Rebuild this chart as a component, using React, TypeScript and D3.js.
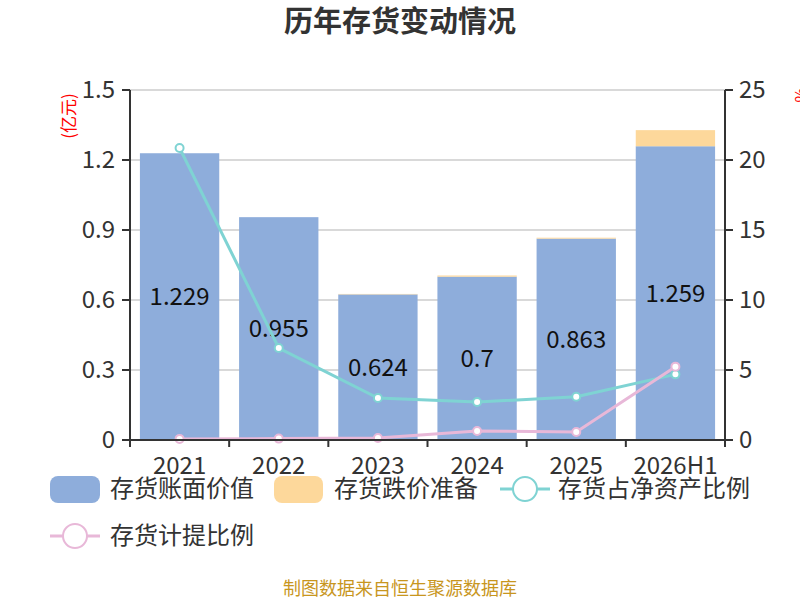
import * as d3 from "d3";

const categories = ["2021", "2022", "2023", "2024", "2025", "2026H1"];
const bookValue = [1.229, 0.955, 0.624, 0.7, 0.863, 1.259];
const impairment = [0, 0, 0.002, 0.005, 0.004, 0.069];
const shareOfNetAssets = [20.86, 6.57, 3.0, 2.71, 3.09, 4.69];
const provisionRatio = [0.08, 0.1, 0.14, 0.64, 0.57, 5.24];
const leftTicks = [0, 0.3, 0.6, 0.9, 1.2, 1.5];
const rightTicks = [0, 5, 10, 15, 20, 25];

const W = 800;
const H = 600;
const font = "'Noto Sans CJK SC', 'Noto Sans', sans-serif";
const blue = "#8eaddb";
const orange = "#fdd89b";
const teal = "#7fd3d3";
const pink = "#e8b8d8";

const App = () => {
  const margin = { top: 90, right: 75, bottom: 160, left: 130 };
  const x = d3
    .scaleBand()
    .domain(categories)
    .range([margin.left, W - margin.right])
    .paddingInner(0.2)
    .paddingOuter(0.1);
  const band = d3.scaleBand().domain(categories).range([margin.left, W - margin.right]);
  const yL = d3.scaleLinear().domain([0, 1.5]).range([H - margin.bottom, margin.top]);
  const yR = d3.scaleLinear().domain([0, 25]).range([H - margin.bottom, margin.top]);
  const cx = (c: string) => (band(c) ?? 0) + band.bandwidth() / 2;

  const line = (vals: number[]) =>
    d3
      .line<number>()
      .x((_, i) => cx(categories[i]))
      .y((v) => yR(v))(vals) ?? "";

  const x0 = margin.left;
  const x1 = W - margin.right;
  const y0 = H - margin.bottom;

  return (
    <svg
      width={W}
      height={H}
      style={{ position: "absolute", left: 0, top: 0 }}
      fontFamily={font}
    >
      <text x={W / 2} y={22} dy="0.35em" textAnchor="middle" fontSize={29} fontWeight="bold" fill="#333">
        历年存货变动情况
      </text>

      {/* grid */}
      {leftTicks.map((t) => (
        <line key={t} x1={x0} x2={x1} y1={yL(t)} y2={yL(t)} stroke="#ccc" strokeWidth={1.5} />
      ))}

      {/* bars */}
      {categories.map((c, i) => {
        const bx = x(c) ?? 0;
        const bw = x.bandwidth();
        const topBlue = yL(bookValue[i]);
        const topAll = yL(bookValue[i] + impairment[i]);
        return (
          <g key={c}>
            <rect x={bx} y={topBlue} width={bw} height={y0 - topBlue} fill={blue} />
            {impairment[i] > 0 && (
              <rect x={bx} y={topAll} width={bw} height={topBlue - topAll} fill={orange} />
            )}
            <text
              x={bx + bw / 2}
              y={(topBlue + y0) / 2}
              dy="0.35em"
              textAnchor="middle"
              fontSize={24}
              fill="#111"
            >
              {bookValue[i]}
            </text>
          </g>
        );
      })}

      {/* lines */}
      <path d={line(shareOfNetAssets)} fill="none" stroke={teal} strokeWidth={3} />
      <path d={line(provisionRatio)} fill="none" stroke={pink} strokeWidth={3} />
      {shareOfNetAssets.map((v, i) => (
        <circle key={"t" + i} cx={cx(categories[i])} cy={yR(v)} r={4} fill="#fff" stroke={teal} strokeWidth={2} />
      ))}
      {provisionRatio.map((v, i) => (
        <circle key={"p" + i} cx={cx(categories[i])} cy={yR(v)} r={4} fill="#fff" stroke={pink} strokeWidth={2} />
      ))}

      {/* left axis */}
      <line x1={x0} x2={x0} y1={margin.top} y2={y0} stroke="#333" strokeWidth={2} />
      {leftTicks.map((t) => (
        <g key={t} transform={`translate(${x0},${yL(t)})`}>
          <line x1={-8} x2={0} stroke="#333" strokeWidth={2} />
          <text x={-15} dy="0.35em" textAnchor="end" fontSize={24} fill="#333">
            {t === 0 ? "0" : d3.format(".1f")(t)}
          </text>
        </g>
      ))}
      <text
        transform={`translate(69,${margin.top + 26}) rotate(-90)`}
        textAnchor="middle"
        dy="0.35em"
        fontSize={17}
        fill="red"
      >
        (亿元)
      </text>

      {/* right axis */}
      <line x1={x1} x2={x1} y1={margin.top} y2={y0} stroke="#333" strokeWidth={2} />
      {rightTicks.map((t) => (
        <g key={t} transform={`translate(${x1},${yR(t)})`}>
          <line x1={0} x2={8} stroke="#333" strokeWidth={2} />
          <text x={14} dy="0.35em" textAnchor="start" fontSize={24} fill="#333">
            {t}
          </text>
        </g>
      ))}
      <text
        transform={`translate(801,${margin.top + 5}) rotate(-90)`}
        textAnchor="middle"
        dy="0.35em"
        fontSize={16}
        fill="red"
      >
        %
      </text>

      {/* bottom axis */}
      <line x1={x0} x2={x1} y1={y0} y2={y0} stroke="#333" strokeWidth={2} />
      {categories.map((c) => (
        <line key={c} x1={band(c) ?? 0} x2={band(c) ?? 0} y1={y0} y2={y0 + 7} stroke="#333" strokeWidth={2} />
      ))}
      <line x1={x1} x2={x1} y1={y0} y2={y0 + 7} stroke="#333" strokeWidth={2} />
      {categories.map((c) => (
        <text key={c} x={cx(c)} y={y0 + 26} dy="0.35em" textAnchor="middle" fontSize={24} fill="#333">
          {c}
        </text>
      ))}

      {/* legend */}
      <g fontSize={24} fill="#333">
        <rect x={50} y={476} width={50} height={27} rx={8} fill={blue} />
        <text x={110} y={489} dy="0.35em">存货账面价值</text>
        <rect x={274} y={476} width={49} height={27} rx={8} fill={orange} />
        <text x={334} y={489} dy="0.35em">存货跌价准备</text>
        <line x1={500} x2={550} y1={489} y2={489} stroke={teal} strokeWidth={3} />
        <circle cx={525} cy={489} r={12} fill="#fff" stroke={teal} strokeWidth={2} />
        <text x={558} y={489} dy="0.35em">存货占净资产比例</text>
        <line x1={50} x2={100} y1={536} y2={536} stroke={pink} strokeWidth={3} />
        <circle cx={75} cy={536} r={12} fill="#fff" stroke={pink} strokeWidth={2} />
        <text x={110} y={536} dy="0.35em">存货计提比例</text>
      </g>

      <text x={W / 2} y={589} dy="0.35em" textAnchor="middle" fontSize={18} fill="#c8961e">
        制图数据来自恒生聚源数据库
      </text>
    </svg>
  );
};

export default App;
